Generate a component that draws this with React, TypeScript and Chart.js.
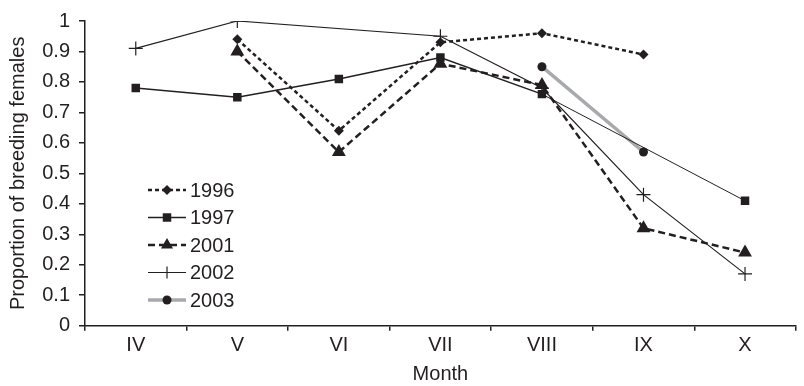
import React, { useEffect, useRef } from "react";
import { Chart, registerables } from "chart.js";

Chart.register(...registerables);

const months = ["IV", "V", "VI", "VII", "VIII", "IX", "X"];
const y1996 = [null, 0.94, 0.64, 0.93, 0.96, 0.89, null];
const y1997 = [0.78, 0.75, 0.81, 0.88, 0.76, null, 0.41];
const y2001 = [null, 0.9, 0.57, 0.86, 0.79, 0.32, 0.24];
const y2002 = [0.91, 1.0, null, 0.95, 0.78, 0.43, 0.17];
const y2003 = [null, null, null, null, 0.85, 0.57, null];
const yTicks = [0, 0.1, 0.2, 0.3, 0.4, 0.5, 0.6, 0.7, 0.8, 0.9, 1];

const INK = "#231f20";
const GREY = "#a7a9ac";
const TEXT = "#231f20";
const FONT = "'Liberation Sans', Arial, sans-serif";
const FS = 20;

type SeriesStyle = {
  label: string;
  data: (number | null)[];
  color: string;
  width: number;
  dash: number[];
  point: string;
  radius: number;
};

const series: SeriesStyle[] = [
  { label: "1996", data: y1996, color: INK, width: 2.5, dash: [4, 3], point: "rectRot", radius: 5 },
  { label: "1997", data: y1997, color: INK, width: 1.5, dash: [], point: "rect", radius: 6 },
  { label: "2001", data: y2001, color: INK, width: 2.5, dash: [7, 4], point: "triangle", radius: 8 },
  { label: "2002", data: y2002, color: INK, width: 1.2, dash: [], point: "cross", radius: 7 },
  { label: "2003", data: y2003, color: GREY, width: 3.5, dash: [], point: "circle", radius: 4.5 },
];

function drawMarker(ctx: CanvasRenderingContext2D, style: string, x: number, y: number, r: number) {
  ctx.fillStyle = INK;
  ctx.strokeStyle = INK;
  ctx.lineWidth = 1.2;
  ctx.beginPath();
  if (style === "rectRot") {
    ctx.moveTo(x - r, y);
    ctx.lineTo(x, y - r);
    ctx.lineTo(x + r, y);
    ctx.lineTo(x, y + r);
    ctx.closePath();
    ctx.fill();
  } else if (style === "rect") {
    const h = r * Math.SQRT1_2;
    ctx.rect(x - h, y - h, 2 * h, 2 * h);
    ctx.fill();
  } else if (style === "triangle") {
    ctx.moveTo(x, y - r);
    ctx.lineTo(x + r * 0.866, y + r * 0.5);
    ctx.lineTo(x - r * 0.866, y + r * 0.5);
    ctx.closePath();
    ctx.fill();
  } else if (style === "cross") {
    ctx.moveTo(x, y - r);
    ctx.lineTo(x, y + r);
    ctx.moveTo(x - r, y);
    ctx.lineTo(x + r, y);
    ctx.stroke();
  } else {
    ctx.arc(x, y, r, 0, Math.PI * 2);
    ctx.fill();
  }
}

const legendPlugin = {
  id: "insideLegend",
  afterDraw(chart: any) {
    const ctx = chart.ctx;
    const area = chart.chartArea;
    const x0 = area.left + 63;
    const x1 = x0 + 38;
    const y0 = area.top + 169;
    const step = 27.5;
    ctx.save();
    series.forEach((s, i) => {
      const y = y0 + i * step;
      ctx.strokeStyle = s.color;
      ctx.lineWidth = s.width;
      ctx.setLineDash(s.dash);
      ctx.beginPath();
      ctx.moveTo(x0, y);
      ctx.lineTo(x1, y);
      ctx.stroke();
      ctx.setLineDash([]);
      const r = s.point === "triangle" ? 7 : s.point === "cross" ? 6 : s.radius;
      drawMarker(ctx, s.point, (x0 + x1) / 2, y, r);
      ctx.fillStyle = TEXT;
      ctx.font = `${FS}px ${FONT}`;
      ctx.textBaseline = "middle";
      ctx.textAlign = "left";
      ctx.fillText(s.label, x1 + 4, y + 1);
    });
    ctx.restore();
  },
};

export default function App() {
  const ref = useRef<HTMLCanvasElement | null>(null);

  useEffect(() => {
    if (!ref.current) return;
    const chart = new Chart(ref.current, {
      type: "line",
      data: {
        labels: months,
        datasets: series.map((s) => ({
          label: s.label,
          data: s.data,
          borderColor: s.color,
          backgroundColor: INK,
          borderWidth: s.width,
          borderDash: s.dash,
          pointStyle: s.point as any,
          pointRadius: s.radius,
          pointBackgroundColor: INK,
          pointBorderColor: INK,
          pointBorderWidth: s.point === "cross" ? 1.2 : 0,
          spanGaps: true,
          tension: 0,
          fill: false,
          segment: s.label === "1997"
            ? { borderWidth: (c: any) => ((c.p0 && c.p0.skip) || (c.p1 && c.p1.skip) ? 1 : s.width) }
            : undefined,
        })),
      },
      options: {
        responsive: false,
        animation: false,
        layout: { padding: { top: 19, right: 4, left: 0, bottom: 0 } },
        plugins: { legend: { display: false }, tooltip: { enabled: false } },
        scales: {
          x: {
            type: "category",
            offset: true,
            grid: {
              offset: true,
              drawOnChartArea: false,
              drawTicks: true,
              tickLength: 5,
              color: INK,
              lineWidth: 1.5,
            },
            border: { color: INK, width: 1.5 },
            ticks: { color: TEXT, font: { family: FONT, size: FS }, padding: 3 },
            title: {
              display: true,
              text: "Month",
              color: TEXT,
              font: { family: FONT, size: FS },
              padding: { top: 0, bottom: 0 },
            },
            afterFit: (scale: any) => {
              scale.height = 60.3;
            },
          },
          y: {
            min: 0,
            max: 1,
            afterBuildTicks: (scale: any) => {
              scale.ticks = yTicks.map((v) => ({ value: v }));
            },
            grid: {
              drawOnChartArea: false,
              drawTicks: true,
              tickLength: 6,
              color: INK,
              lineWidth: 1.5,
            },
            border: { color: INK, width: 1.5 },
            ticks: {
              color: TEXT,
              font: { family: FONT, size: FS },
              padding: 9,
              callback: (v: any) => String(Math.round(Number(v) * 10) / 10),
            },
            title: {
              display: true,
              text: "Proportion of breeding females",
              color: TEXT,
              font: { family: FONT, size: FS },
              padding: { top: 6, bottom: 0 },
            },
            afterFit: (scale: any) => {
              scale.width = 85;
            },
          },
        },
      },
      plugins: [legendPlugin],
    });
    return () => chart.destroy();
  }, []);

  return (
    <div style={{ position: "absolute", left: 0, top: 0, width: 804, height: 386, background: "#fff" }}>
      <canvas ref={ref} width={804} height={386} />
    </div>
  );
}
